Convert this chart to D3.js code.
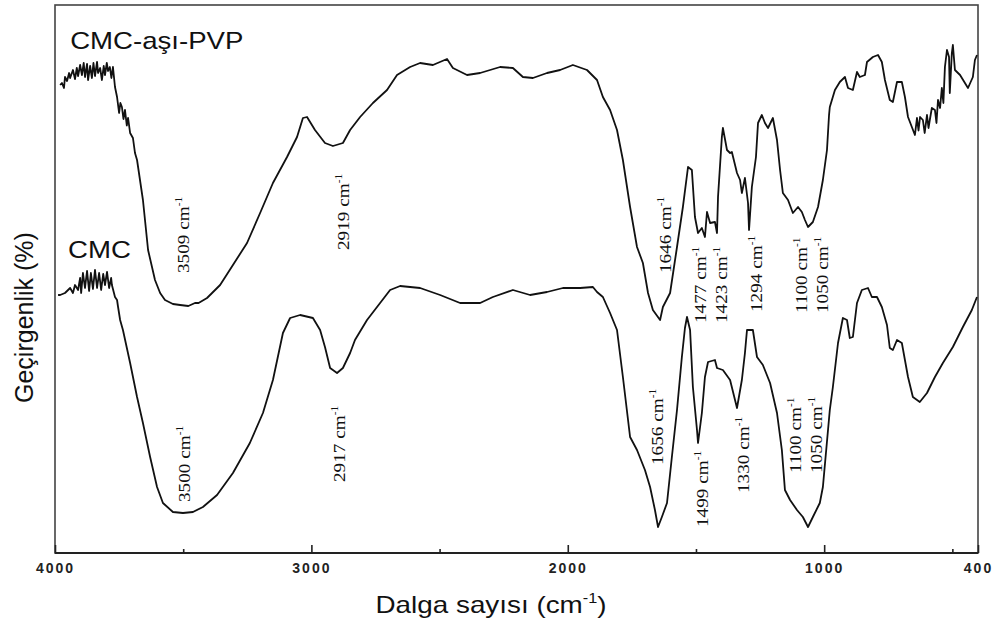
<!DOCTYPE html>
<html><head><meta charset="utf-8">
<script src="https://cdn.jsdelivr.net/npm/d3@7"></script>
<style>body{margin:0;background:#fff}</style>
</head><body><svg id="c" width="997" height="626"></svg>
<script>
// ---- data (wavenumber cm-1, transmittance in arbitrary offset units) ----
const graftWavenumber = [3980,3973,3965,3961,3953,3945,3941,3930,3922,3915,3910,3902,3895,3888,3883,3875,3871,3863,3856,3850,3844,3836,3832,3824,3817,3810,3805,3798,3793,3786,3780,3774,3766,3758,3750,3745,3739,3733,3727,3720,3715,3707,3696,3688,3680,3657,3637,3610,3590,3571,3540,3512,3480,3454,3440,3407,3356,3306,3251,3200,3150,3095,3056,3033,3017,2986,2947,2916,2877,2849,2810,2760,2705,2666,2615,2576,2526,2471,2448,2393,2342,2264,2214,2175,2136,2081,2030,1980,1925,1886,1863,1835,1808,1785,1757,1730,1707,1687,1668,1640,1629,1601,1574,1551,1531,1516,1504,1492,1477,1465,1457,1445,1426,1418,1414,1399,1395,1379,1367,1360,1340,1328,1321,1309,1297,1293,1282,1266,1258,1243,1231,1219,1200,1184,1172,1161,1141,1122,1102,1087,1075,1063,1044,1024,1005,989,981,978,958,939,919,907,888,872,861,841,833,810,790,775,763,744,732,716,697,685,673,658,646,638,632,626,615,608,599,593,588,580,568,562,556,548,541,535,529,521,513,510,502,498,490,470,439,420,412,404];
const graftTransmittance = [93.6,94.0,93.0,95.2,94.4,96.0,95.0,96.6,94.8,97.0,95.4,97.6,95.6,98.0,95.2,97.8,94.6,97.4,95.0,98.0,95.4,98.2,96.0,97.0,94.6,97.4,95.6,98.0,96.4,97.2,95.0,97.2,93.2,91.2,88.0,90.0,89.2,86.8,88.6,85.5,87.0,84.0,83.0,80.0,78.6,70.6,60.6,54.6,52.0,50.6,49.8,49.6,49.4,50.0,50.0,51.0,53.6,57.6,62.0,68.0,74.0,79.2,83.2,87.0,87.2,84.6,82.0,81.4,82.0,84.6,87.2,90.0,92.6,95.6,97.2,98.0,97.6,98.8,97.0,95.6,96.0,97.2,97.0,95.2,95.0,96.0,96.6,97.6,96.6,94.6,91.2,88.6,84.6,78.6,69.2,61.2,58.0,52.0,48.6,46.6,49.2,52.0,61.2,69.2,77.2,76.6,67.2,64.0,65.0,63.2,68.2,66.0,66.2,64.0,71.2,83.2,85.0,80.6,80.0,80.2,76.0,74.6,72.0,75.0,70.0,64.6,73.2,79.2,86.0,87.6,86.0,85.0,87.0,82.6,76.6,72.0,70.6,68.0,69.2,68.2,66.6,65.2,66.2,69.2,74.6,80.6,87.6,89.2,92.6,94.2,95.2,93.0,92.6,96.2,95.2,95.6,98.2,99.2,99.6,98.2,94.6,90.6,90.2,94.2,94.2,91.2,87.2,85.2,83.6,87.0,84.5,87.2,86.6,84.0,87.6,85.0,86.6,89.0,88.6,86.0,90.6,89.0,93.0,90.0,97.2,100.6,99.2,92.0,100.0,101.6,96.6,95.6,93.0,95.2,98.6,99.6];

const cmcWavenumber = [3988,3980,3961,3953,3941,3930,3922,3910,3902,3898,3891,3883,3875,3867,3860,3852,3844,3836,3828,3820,3812,3805,3797,3789,3781,3778,3766,3758,3754,3746,3735,3707,3680,3657,3629,3602,3579,3540,3501,3462,3423,3368,3306,3240,3189,3150,3111,3083,3044,2994,2966,2947,2927,2900,2877,2849,2830,2783,2732,2693,2654,2576,2498,2420,2342,2292,2214,2147,2081,2019,1952,1902,1886,1863,1835,1808,1785,1757,1730,1699,1679,1660,1648,1633,1613,1594,1574,1555,1543,1535,1523,1512,1496,1492,1477,1465,1453,1426,1418,1395,1367,1340,1321,1309,1301,1278,1262,1239,1211,1184,1165,1153,1133,1106,1083,1063,1044,1017,1005,978,966,946,927,911,900,888,872,853,829,814,794,775,755,744,732,716,697,685,673,654,627,599,568,537,498,459,424,404];
const cmcTransmittance = [51.6,51.6,52.0,52.4,53.0,52.0,53.6,52.6,55.0,52.0,56.0,53.0,56.4,52.4,56.0,52.8,56.6,53.0,56.0,52.6,55.8,53.6,56.2,53.0,55.0,53.6,51.2,50.6,49.2,46.6,44.6,38.0,31.2,26.0,19.2,13.2,10.0,8.2,8.0,8.2,9.2,11.6,16.0,22.0,28.0,34.6,44.0,47.0,47.6,47.0,44.6,41.2,37.0,36.0,37.0,40.0,42.6,46.6,50.0,52.6,53.4,53.0,51.6,50.0,50.0,51.2,52.6,51.6,52.2,53.0,53.0,53.2,52.2,51.2,48.0,44.6,35.2,23.2,20.6,16.6,13.2,8.6,5.2,7.2,10.0,19.2,28.6,39.2,45.0,47.2,44.6,33.2,24.6,22.0,28.0,35.2,38.2,38.6,37.0,36.6,34.6,29.0,34.6,40.0,44.6,44.6,39.2,37.6,34.0,28.0,20.6,12.6,10.6,8.6,7.2,5.2,7.2,10.0,13.2,28.6,33.2,42.0,47.0,46.6,43.0,43.2,50.0,52.6,53.0,51.2,51.2,49.2,45.6,41.0,40.6,42.6,42.0,38.6,35.2,31.2,30.2,32.0,35.2,38.0,41.2,45.2,48.6,51.2];

const xMajorTicks = [4000,3000,2000,1000,400];
const xMinorTicks = [3500,2500,1500,500];

const seriesNames = ["CMC-aşı-PVP","CMC"];
const seriesNameAt = [3941,3949];
const seriesNameLevel = [100.8,59.0];

const graftPeakLabels = ["3509","2919","1646","1477","1423","1294","1100","1050"];
const graftPeakAt = [3477,2853,1598,1461,1379,1243,1067,985];
const graftPeakLevel = [56.0,60.6,56.0,46.0,46.0,48.2,48.0,48.0];
const cmcPeakLabels = ["3500","2917","1656","1499","1330","1100","1050"];
const cmcPeakAt = [3473,2869,1629,1453,1293,1091,1009];
const cmcPeakLevel = [10.2,14.2,17.6,5.2,12.0,16.0,16.0];

// ---- drawing ----
const svg = d3.select("#c");
const x = d3.scaleLinear().domain([4000,400]).range([55,978]);
const y = d3.scaleLinear().domain([0,109.6]).range([553,5]);

// frame
svg.append("rect").attr("x",x(4000)).attr("y",y(109.6))
  .attr("width",x(400)-x(4000)).attr("height",y(0)-y(109.6))
  .attr("fill","none").attr("stroke","#444").attr("stroke-width",1.6);
svg.append("line").attr("x1",x(4000)).attr("x2",x(400)).attr("y1",y(0)).attr("y2",y(0))
  .attr("stroke","#222").attr("stroke-width",2);

// axis
const gx = svg.append("g").attr("transform",`translate(0,${y(0)})`);
gx.call(d3.axisBottom(x).tickValues(xMajorTicks).tickSizeInner(-8).tickSizeOuter(0)
  .tickPadding(10).tickFormat(d3.format("d")));
gx.select(".domain").remove();
gx.selectAll(".tick line").attr("stroke","#222").attr("stroke-width",1.6);
gx.selectAll(".tick text").attr("font-family","Liberation Sans, Arial, sans-serif")
  .attr("font-size",14).attr("font-weight","bold").attr("letter-spacing","2px").attr("fill","#222");
const gm = svg.append("g").attr("transform",`translate(0,${y(0)})`);
gm.call(d3.axisBottom(x).tickValues(xMinorTicks).tickSizeInner(-4).tickSizeOuter(0).tickFormat(""));
gm.select(".domain").remove();
gm.selectAll(".tick line").attr("stroke","#222").attr("stroke-width",1.6);

// curves
const line = d3.line().x(d=>x(d[0])).y(d=>y(d[1]));
svg.append("path").datum(d3.zip(graftWavenumber,graftTransmittance))
  .attr("d",line).attr("fill","none").attr("stroke","#111").attr("stroke-width",1.8).attr("stroke-linejoin","round");
svg.append("path").datum(d3.zip(cmcWavenumber,cmcTransmittance))
  .attr("d",line).attr("fill","none").attr("stroke","#111").attr("stroke-width",1.8).attr("stroke-linejoin","round");

// series names
seriesNames.forEach((n,i)=>{
  svg.append("text").attr("transform",`translate(${x(seriesNameAt[i])},${y(seriesNameLevel[i])}) scale(1.15,1)`)
    .attr("font-family","Liberation Sans, Arial, sans-serif").attr("font-size",24).attr("fill","#111").text(n);
});

// peak labels
function peak(labels, at, level){
  labels.forEach((t,i)=>{
    const tx = svg.append("text")
      .attr("transform",`translate(${x(at[i])},${y(level[i])}) rotate(-90) scale(1.13,1)`)
      .attr("font-family","Liberation Serif, Times New Roman, serif").attr("font-size",17).attr("fill","#111");
    tx.append("tspan").text(t+" cm");
    tx.append("tspan").attr("dy",-7).attr("font-size",10).text("-1");
  });
}
peak(graftPeakLabels, graftPeakAt, graftPeakLevel);
peak(cmcPeakLabels, cmcPeakAt, cmcPeakLevel);

// axis titles
const xt = svg.append("text").attr("transform",`translate(491,613) scale(1.16,1)`)
  .attr("text-anchor","middle")
  .attr("font-family","Liberation Sans, Arial, sans-serif").attr("font-size",24).attr("fill","#111");
xt.append("tspan").text("Dalga sayısı (cm");
xt.append("tspan").attr("dy",-10).attr("font-size",14).text("-1");
xt.append("tspan").attr("dy",10).text(")");

svg.append("text").attr("transform","translate(33,403) rotate(-90)")
  .attr("font-family","Liberation Sans, Arial, sans-serif").attr("font-size",25).attr("fill","#111")
  .text("Geçirgenlik (%)");
</script></body></html>
